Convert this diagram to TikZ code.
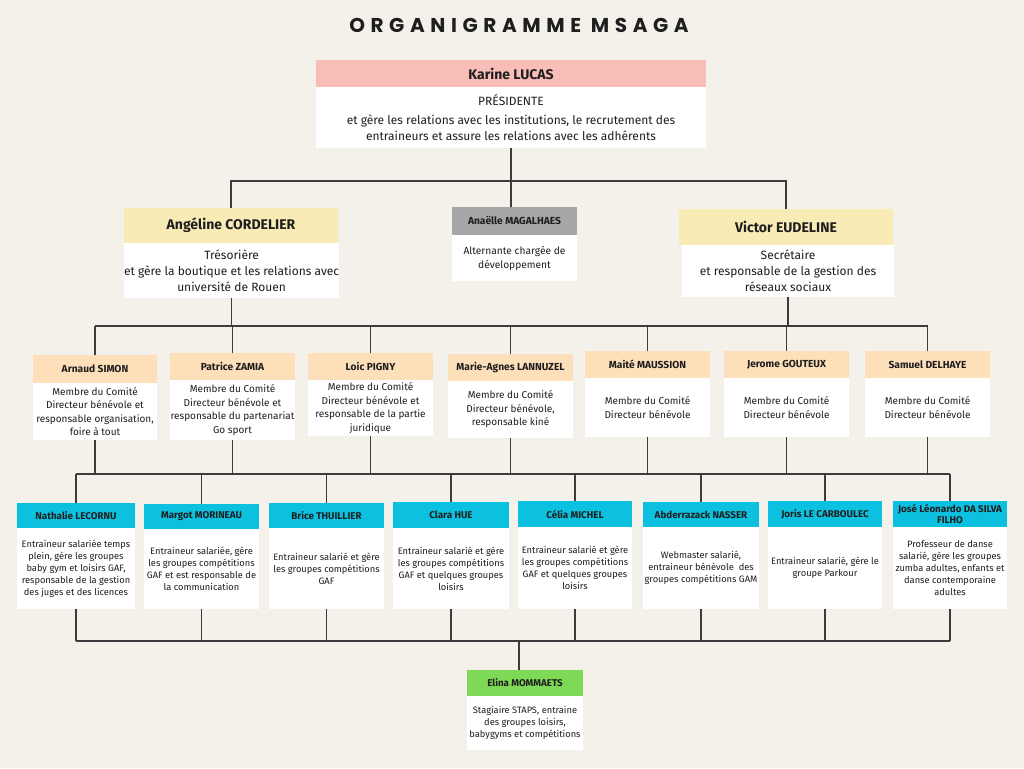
\documentclass[tikz,border=0pt]{standalone}
\usepackage{fontspec}
\setmainfont{Fira Sans}
\newfontfamily\titlefont{Poppins}[LetterSpace=28]
\usepackage{tikz}

\definecolor{fond}{HTML}{F4F0EA}
\definecolor{rose}{HTML}{F9BDB7}
\definecolor{jaune}{HTML}{F8EBB6}
\definecolor{gris}{HTML}{A6A6A6}
\definecolor{peche}{HTML}{FDDFBA}
\definecolor{cyan}{HTML}{0CC0DF}
\definecolor{vert}{HTML}{7ED957}
\definecolor{texte}{HTML}{1E1E1E}
\definecolor{trait}{HTML}{3C3C3C}

\tikzset{
  boite/.style={anchor=north west, inner xsep=0pt, inner ysep=1pt, outer sep=0pt, text=texte, align=center},
  tete/.style={boite, fill=#1},
  corps/.style={boite, fill=white},
  nomA/.style={tete=#1, font=\bfseries\fontsize{14}{16}\selectfont},
  txtA/.style={corps, font=\fontsize{12}{16}\selectfont},
  nomB/.style={tete=#1, font=\bfseries\fontsize{10.2}{12}\selectfont},
  txtB/.style={corps, font=\fontsize{10}{13.5}\selectfont},
  nomC/.style={tete=#1, font=\bfseries\fontsize{9.8}{11}\selectfont},
  txtC/.style={corps, font=\fontsize{9.3}{12}\selectfont},
  lien/.style={draw=trait, line width=1.1pt},
}

\begin{document}
\begin{tikzpicture}[x=1pt, y=-1pt]
\fill[fond] (0,0) rectangle (1024,768);
\useasboundingbox (0,0) rectangle (1024,768);

\node[text=texte, font=\titlefont\bfseries\fontsize{20}{24}\selectfont] (titre) at (519,25) {ORGANIGRAMME MSAGA};

% presidente
\node[nomA=rose, minimum width=390pt, minimum height=27pt] (karine) at (316,60) {Karine LUCAS};
\node[txtA, minimum width=390pt, minimum height=61pt] (karine-txt) at (karine.south west)
  {PRÉSIDENTE\\[3pt] et gère les relations avec les institutions, le recrutement des\\ entraineurs et assure les relations avec les adhérents};

% bureau
\node[nomA=jaune, minimum width=214pt, minimum height=35pt] (angeline) at (124,208) {Angéline CORDELIER};
\node[txtA, minimum width=214pt, minimum height=55pt] (angeline-txt) at (angeline.south west)
  {Trésorière\\ et gère la boutique et les relations avec\\ université de Rouen};
\node[nomB=gris, minimum width=125pt, minimum height=28pt] (anaelle) at (452,207) {Anaëlle MAGALHAES};
\node[txtB, minimum width=125pt, minimum height=46pt, font=\fontsize{10.2}{14}\selectfont] (anaelle-txt) at (anaelle.south west)
  {Alternante chargée de\\ développement};
\node[nomA=jaune, minimum width=214pt, minimum height=36pt] (victor) at (679,209) {Victor EUDELINE};
\node[txtA, minimum width=212pt, minimum height=52pt] (victor-txt) at ([xshift=3pt]victor.south west)
  {Secrétaire\\ et responsable de la gestion des\\ réseaux sociaux};

% comite directeur
\node[nomB=peche, minimum width=124pt, minimum height=28pt] (arnaud) at (33,355) {Arnaud SIMON};
\node[txtB, minimum width=124pt, minimum height=57pt] (arnaud-txt) at (arnaud.south west)
  {Membre du Comité\\ Directeur bénévole et\\ responsable organisation,\\ foire à tout};
\node[nomB=peche, minimum width=125pt, minimum height=27pt] (patrice) at (170,353) {Patrice ZAMIA};
\node[txtB, minimum width=125pt, minimum height=60pt] (patrice-txt) at (patrice.south west)
  {Membre du Comité\\ Directeur bénévole et\\ responsable du partenariat\\ Go sport};
\node[nomB=peche, minimum width=125pt, minimum height=27pt] (loic) at (308,353) {Loic PIGNY};
\node[txtB, minimum width=125pt, minimum height=56pt] (loic-txt) at (loic.south west)
  {Membre du Comité\\ Directeur bénévole et\\ responsable de la partie\\ juridique};
\node[nomB=peche, minimum width=125pt, minimum height=27pt] (marie) at (448,354) {Marie-Agnes LANNUZEL};
\node[txtB, minimum width=125pt, minimum height=57pt] (marie-txt) at (marie.south west)
  {Membre du Comité\\ Directeur bénévole,\\ responsable kiné};
\node[nomB=peche, minimum width=125pt, minimum height=27pt] (maite) at (585,351) {Maité MAUSSION};
\node[txtB, minimum width=125pt, minimum height=59pt] (maite-txt) at (maite.south west)
  {Membre du Comité\\ Directeur bénévole};
\node[nomB=peche, minimum width=125pt, minimum height=27pt] (jerome) at (724,351) {Jerome GOUTEUX};
\node[txtB, minimum width=125pt, minimum height=59pt] (jerome-txt) at (jerome.south west)
  {Membre du Comité\\ Directeur bénévole};
\node[nomB=peche, minimum width=125pt, minimum height=27pt] (samuel) at (865,351) {Samuel DELHAYE};
\node[txtB, minimum width=125pt, minimum height=59pt] (samuel-txt) at (samuel.south west)
  {Membre du Comité\\ Directeur bénévole};

% entraineurs
\node[nomC=cyan, minimum width=118pt, minimum height=25pt] (nathalie) at (17,503) {Nathalie LECORNU};
\node[txtC, minimum width=118pt, minimum height=81pt] (nathalie-txt) at (nathalie.south west)
  {Entraineur salariée temps\\ plein, gère les groupes\\ baby gym et loisirs GAF,\\ responsable de la gestion\\ des juges et des licences};
\node[nomC=cyan, minimum width=115pt, minimum height=25pt] (margot) at (144,504) {Margot MORINEAU};
\node[txtC, minimum width=115pt, minimum height=80pt] (margot-txt) at (margot.south west)
  {Entraineur salariée, gère\\ les groupes compétitions\\ GAF et est responsable de\\ la communication};
\node[nomC=cyan, minimum width=115pt, minimum height=25pt] (brice) at (269,503) {Brice THUILLIER};
\node[txtC, minimum width=115pt, minimum height=81pt] (brice-txt) at (brice.south west)
  {Entraineur salarié et gère\\ les groupes compétitions\\ GAF};
\node[nomC=cyan, minimum width=116pt, minimum height=26pt] (clara) at (393,502) {Clara HUE};
\node[txtC, minimum width=116pt, minimum height=81pt] (clara-txt) at (clara.south west)
  {Entraineur salarié et gère\\ les groupes compétitions\\ GAF et quelques groupes\\ loisirs};
\node[nomC=cyan, minimum width=114pt, minimum height=26pt] (celia) at (518,501) {Célia MICHEL};
\node[txtC, minimum width=114pt, minimum height=82pt] (celia-txt) at (celia.south west)
  {Entraineur salarié et gère\\ les groupes compétitions\\ GAF et quelques groupes\\ loisirs};
\node[nomC=cyan, minimum width=116pt, minimum height=25pt] (abder) at (643,502) {Abderrazack NASSER};
\node[txtC, minimum width=116pt, minimum height=82pt] (abder-txt) at (abder.south west)
  {Webmaster salarié,\\ entraineur bénévole~ des\\ groupes compétitions GAM};
\node[nomC=cyan, minimum width=114pt, minimum height=26pt] (joris) at (768,501) {Joris LE CARBOULEC};
\node[txtC, minimum width=114pt, minimum height=82pt] (joris-txt) at (joris.south west)
  {Entraineur salarié, gère le\\ groupe Parkour};
\node[nomC=cyan, minimum width=114pt, minimum height=26pt] (jose) at (893,501) {José Léonardo DA SILVA\\ FILHO};
\node[txtC, minimum width=114pt, minimum height=82pt] (jose-txt) at (jose.south west)
  {Professeur de danse\\ salarié, gère les groupes\\ zumba adultes, enfants et\\ danse contemporaine\\ adultes};

% stagiaire
\node[nomC=vert, minimum width=116pt, minimum height=26pt] (elina) at (467,670) {Elina MOMMAETS};
\node[txtC, minimum width=116pt, minimum height=54pt] (elina-txt) at (elina.south west)
  {Stagiaire STAPS, entraine\\ des groupes loisirs,\\ babygyms et compétitions};

% liens
\coordinate (barre1) at (0,181);
\coordinate (barre2) at (0,326);
\coordinate (barre3) at (0,474);
\coordinate (barre4) at (0,641);
\draw[lien] (karine-txt.south) -- (karine-txt.south |- anaelle.north);
\draw[lien] (angeline.north) |- (barre1 -| victor.north) -- (victor.north);
\draw[lien] (angeline-txt.south) -- (barre2 -| angeline-txt.south);
\draw[lien] (victor-txt.south) -- (barre2 -| victor-txt.south);
\draw[lien] (barre2 -| arnaud.north) -- (barre2 -| samuel.north);
\foreach \qui in {arnaud,patrice,loic,marie,maite,jerome,samuel}{
  \draw[lien] (\qui.north) -- (barre2 -| \qui.north);
  \draw[lien] (\qui-txt.south) -- (barre3 -| \qui-txt.south);
}
\draw[lien] (barre3 -| nathalie.north) -- (barre3 -| jose.north);
\foreach \qui in {nathalie,margot,brice,clara,celia,abder,joris,jose}{
  \draw[lien] (\qui.north) -- (barre3 -| \qui.north);
  \draw[lien] (\qui-txt.south) -- (barre4 -| \qui-txt.south);
}
\draw[lien] (barre4 -| nathalie-txt.south) -- (barre4 -| jose-txt.south);
\draw[lien] ([xshift=-6pt]elina.north) -- ([xshift=-6pt]elina.north |- barre4);
\end{tikzpicture}
\end{document}
